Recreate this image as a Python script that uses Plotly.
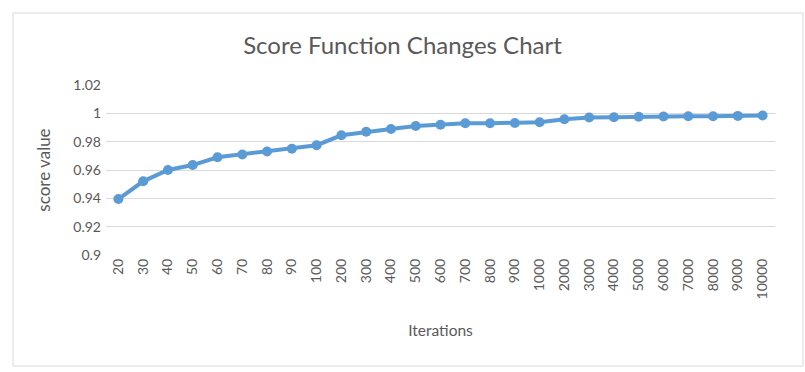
import plotly.graph_objects as go

iterations = ["20", "30", "40", "50", "60", "70", "80", "90", "100", "200", "300", "400",
              "500", "600", "700", "800", "900", "1000", "2000", "3000", "4000", "5000",
              "6000", "7000", "8000", "9000", "10000"]
scores = [0.9395, 0.952, 0.960, 0.9635, 0.969, 0.971, 0.973, 0.975, 0.9775, 0.9845,
          0.987, 0.989, 0.991, 0.992, 0.993, 0.993, 0.9932, 0.9937, 0.9958, 0.997,
          0.9972, 0.9976, 0.9978, 0.998, 0.998, 0.9982, 0.9985]
y_ticks = [0.9, 0.92, 0.94, 0.96, 0.98, 1.0, 1.02]
y_tick_text = ["0.9", "0.92", "0.94", "0.96", "0.98", "1", "1.02"]

FONT = "Lato"
GREY = "#595959"

fig = go.Figure()
fig.add_trace(go.Scatter(
    x=iterations, y=scores, mode="lines+markers",
    line=dict(color="#5B9BD5", width=4),
    marker=dict(color="#5B9BD5", size=10),
    showlegend=False,
))

fig.update_layout(
    width=805, height=372,
    margin=dict(l=106, r=30, t=85, b=117, autoexpand=False),
    paper_bgcolor="white", plot_bgcolor="white",
    font=dict(family=FONT, color=GREY, size=14),
    title=dict(text="Score Function Changes Chart", x=0.5, xref="container",
               xanchor="center", y=0.878, yref="container", yanchor="middle",
               font=dict(size=24, color=GREY, family=FONT)),
    xaxis=dict(type="category", range=[-0.5, len(iterations) - 0.5],
               tickangle=-90, showgrid=False, zeroline=False,
               showline=False, ticks="", tickfont=dict(size=14, color=GREY),
               automargin=False,
               title=dict(text="Iterations", font=dict(size=15.5, color=GREY), standoff=26)),
    yaxis=dict(range=[0.9, 1.02], tickvals=y_ticks, ticktext=y_tick_text,
               showgrid=True, gridcolor="#D9D9D9", gridwidth=1, zeroline=False,
               showline=False, ticks="", ticklabelstandoff=4, automargin=False,
               tickfont=dict(size=14, color=GREY),
               title=dict(text="score value", font=dict(size=17, color=GREY), standoff=18)),
    shapes=[dict(type="rect", xref="paper", yref="paper",
                 x0=-0.139, x1=1.0419, y0=-0.653, y1=1.4235,
                 line=dict(color="#D9D9D9", width=1), fillcolor="rgba(0,0,0,0)", layer="below")],
)

fig.write_html("out.html", config={"displayModeBar": False},
               post_script="document.body.style.margin='0';")
